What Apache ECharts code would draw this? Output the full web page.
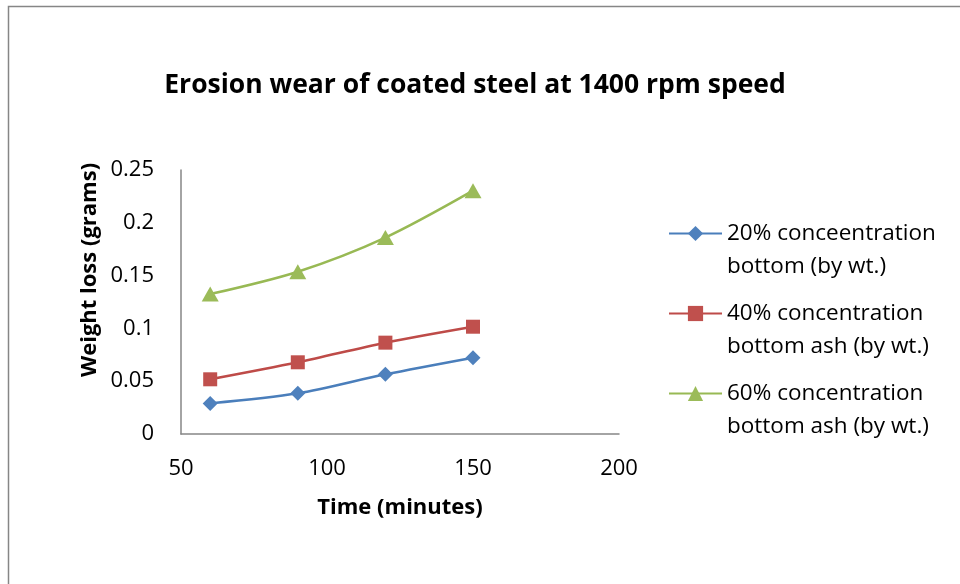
<!DOCTYPE html>
<html>
<head>
<meta charset="utf-8">
<script src="https://cdn.jsdelivr.net/npm/echarts@6/dist/echarts.min.js"></script>
<style>
  html, body { margin: 0; padding: 0; background: #fff; }
  #chart { width: 960px; height: 584px; }
</style>
</head>
<body>
<div id="chart"></div>
<script>
// Erosion wear measurements of coated steel, 1400 rpm
const timeMinutes = [60, 90, 120, 150];
const seriesNames = [
  '20% conceentration\nbottom (by wt.)',
  '40% concentration\nbottom ash (by wt.)',
  '60% concentration\nbottom ash (by wt.)'
];
const loss20 = [0.029, 0.0385, 0.0565, 0.0723];
const loss40 = [0.0518, 0.0679, 0.0865, 0.1016];
const loss60 = [0.1325, 0.1537, 0.186, 0.2304];
const xTicks = [50, 100, 150, 200];
const yTicks = [0, 0.05, 0.1, 0.15, 0.2, 0.25];

const FONT = '"Open Sans", Lato, sans-serif';
const AXIS_GREY = '#868686';
const LEGEND_LINE = 33;

function pairs(values) {
  return timeMinutes.map((t, i) => [t, values[i]]);
}

const styles = [
  { line: '#4a7ebb', fill: '#4f81bd', symbol: 'diamond', size: 15 },
  { line: '#be4b48', fill: '#c0504d', symbol: 'rect', size: 14 },
  { line: '#98b954', fill: '#9bbb59', symbol: 'triangle', size: [17, 15] }
];
const seriesValues = [loss20, loss40, loss60];

const chart = echarts.init(document.getElementById('chart'), null, { renderer: 'canvas' });

chart.setOption({
  backgroundColor: '#ffffff',
  animation: false,
  title: {
    text: 'Erosion wear of coated steel at 1400 rpm speed',
    left: 470,
    top: 67,
    textAlign: 'center',
    textStyle: { fontFamily: FONT, fontWeight: 'bold', fontSize: 26.5, color: '#000' }
  },
  graphic: [{
    type: 'rect',
    shape: { x: 8.5, y: 6.5, width: 1000, height: 700 },
    style: { fill: 'none', stroke: AXIS_GREY, lineWidth: 1.5 },
    silent: true,
    z: -1
  }],
  legend: {
    orient: 'vertical',
    left: 663,
    top: 179,
    itemWidth: 53,
    itemHeight: 19,
    itemGap: 80 - 3 * LEGEND_LINE,
    // a blank leading line keeps the marker level with the first text line
    formatter: (name) => ' \n' + name,
    textStyle: {
      fontFamily: FONT,
      fontSize: 22.5,
      color: '#000',
      lineHeight: LEGEND_LINE
    },
    data: seriesNames
  },
  grid: { left: 181, right: 341, top: 170, bottom: 150 },
  xAxis: {
    type: 'value',
    min: xTicks[0],
    max: xTicks[xTicks.length - 1],
    interval: xTicks[1] - xTicks[0],
    name: 'Time (minutes)',
    nameLocation: 'middle',
    nameGap: 63,
    nameTextStyle: { fontFamily: FONT, fontWeight: 'bold', fontSize: 22, color: '#000' },
    axisLine: { show: true, lineStyle: { color: AXIS_GREY, width: 1.5 } },
    axisTick: { show: false },
    splitLine: { show: false },
    axisLabel: { margin: 24, fontFamily: FONT, fontSize: 22, color: '#000' }
  },
  yAxis: {
    type: 'value',
    min: yTicks[0],
    max: yTicks[yTicks.length - 1],
    interval: yTicks[1] - yTicks[0],
    name: 'Weight loss (grams)',
    nameLocation: 'middle',
    nameGap: 80,
    nameTextStyle: {
      fontFamily: FONT, fontWeight: 'bold', fontSize: 22, color: '#000',
      padding: [0, 0, 0, 64]
    },
    axisLine: { show: true, lineStyle: { color: AXIS_GREY, width: 1.5 } },
    axisTick: { show: false },
    splitLine: { show: false },
    axisLabel: { margin: 27, fontFamily: FONT, fontSize: 22, color: '#000' }
  },
  series: seriesNames.map((name, k) => ({
    name: name,
    type: 'line',
    smooth: 0.3,
    data: pairs(seriesValues[k]),
    symbol: styles[k].symbol,
    symbolSize: styles[k].size,
    showSymbol: true,
    lineStyle: { color: styles[k].line, width: 2.5 },
    itemStyle: { color: styles[k].fill, borderColor: styles[k].fill, borderWidth: 0 }
  }))
});
</script>
</body>
</html>
